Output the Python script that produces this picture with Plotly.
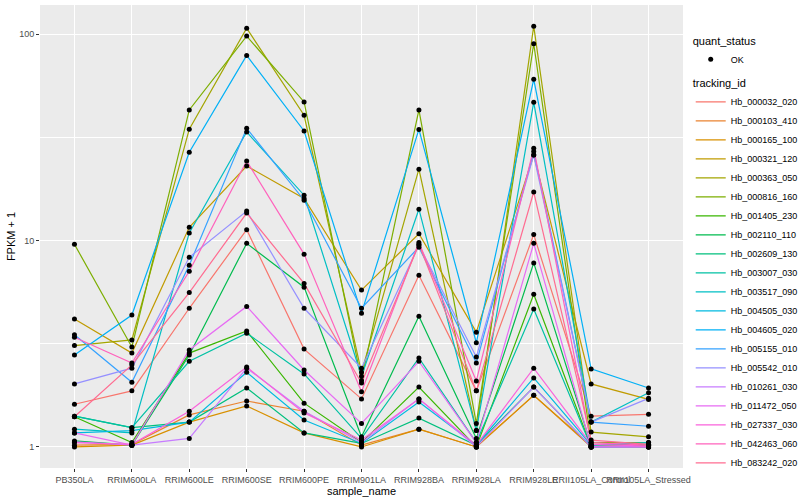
import plotly.graph_objects as go

samples = ["PB350LA", "RRIM600LA", "RRIM600LE", "RRIM600SE", "RRIM600PE", "RRIM901LA",
           "RRIM928BA", "RRIM928LA", "RRIM928LE", "RRII105LA_Control", "RRII105LA_Stressed"]

tracking_ids = ["Hb_000032_020", "Hb_000103_410", "Hb_000165_100", "Hb_000321_120",
                "Hb_000363_050", "Hb_000816_160", "Hb_001405_230", "Hb_002110_110",
                "Hb_002609_130", "Hb_003007_030", "Hb_003517_090", "Hb_004505_030",
                "Hb_004605_020", "Hb_005155_010", "Hb_005542_010", "Hb_010261_030",
                "Hb_011472_050", "Hb_027337_030", "Hb_042463_060", "Hb_083242_020"]

colors = ["#F8766D", "#EA8331", "#D89000", "#C09B00", "#A3A500", "#7CAE00", "#39B600",
          "#00BB4E", "#00BF7D", "#00C1A3", "#00BFC4", "#00BAE0", "#00B0F6", "#35A2FF",
          "#9590FF", "#C77CFF", "#E76BF3", "#FA62DB", "#FF62BC", "#FF6C91"]

# FPKM + 1 per tracking_id, in sample order
Hb_000032_020 = [1.61, 1.87, 4.7, 11.3, 2.98, 1.71, 6.8, 1.87, 10.7, 1.41, 1.44]
Hb_000103_410 = [1.02, 1.03, 1.43, 1.67, 1.49, 1.02, 1.22, 1.0, 1.78, 1.0, 1.02]
Hb_000165_100 = [1.0, 1.02, 1.32, 1.58, 1.17, 1.0, 1.22, 1.0, 1.78, 1.01, 1.0]
Hb_000321_120 = [4.17, 2.85, 11.6, 23.0, 16.0, 5.76, 10.8, 3.6, 26.0, 2.02, 1.7]
Hb_000363_050 = [3.1, 3.3, 34.7, 107.0, 40.5, 2.3, 22.2, 1.2, 109.5, 1.18, 1.12]
Hb_000816_160 = [9.6, 3.05, 43.0, 98.0, 47.0, 2.1, 43.0, 1.3, 90.0, 1.05, 1.05]
Hb_001405_230 = [1.4, 1.05, 2.85, 3.65, 1.63, 1.05, 1.95, 1.0, 5.5, 1.0, 1.0]
Hb_002110_110 = [1.07, 1.02, 2.79, 9.7, 5.95, 1.12, 4.3, 1.1, 7.8, 1.02, 1.03]
Hb_002609_130 = [1.41, 1.24, 1.32, 1.93, 1.17, 1.04, 1.38, 1.02, 1.95, 1.0, 1.01]
Hb_003007_030 = [1.41, 1.24, 2.6, 3.56, 2.26, 1.1, 2.7, 1.05, 4.66, 1.0, 1.0]
Hb_003517_090 = [1.22, 1.17, 10.9, 33.6, 16.6, 2.2, 14.2, 1.2, 46.8, 1.32, 1.83]
Hb_004505_030 = [1.17, 1.2, 1.32, 2.3, 1.35, 1.04, 1.65, 1.02, 2.16, 1.02, 1.05]
Hb_004605_020 = [2.79, 4.36, 26.8, 79.0, 34.0, 4.45, 34.6, 3.2, 60.5, 2.39, 1.93]
Hb_005155_010 = [3.5, 2.06, 7.6, 35.0, 15.7, 4.7, 9.3, 2.55, 27.0, 1.32, 1.26]
Hb_005542_010 = [2.02, 2.41, 8.3, 13.9, 4.7, 2.41, 9.5, 2.73, 26.0, 1.32, 1.72]
Hb_010261_030 = [1.06, 1.02, 1.1, 2.41, 1.49, 1.05, 1.71, 1.0, 1.95, 1.0, 1.0]
Hb_011472_050 = [1.17, 1.02, 2.95, 4.8, 2.36, 1.3, 2.6, 1.05, 9.7, 1.0, 1.0]
Hb_027337_030 = [1.05, 1.03, 1.49, 2.44, 1.46, 1.08, 1.71, 1.02, 2.41, 1.03, 1.01]
Hb_042463_060 = [3.4, 2.55, 7.1, 24.3, 8.6, 1.85, 9.8, 2.09, 28.0, 1.05, 1.02]
Hb_083242_020 = [1.4, 2.5, 5.6, 13.6, 6.2, 2.04, 9.6, 1.87, 17.2, 1.08, 1.03]

series = [Hb_000032_020, Hb_000103_410, Hb_000165_100, Hb_000321_120, Hb_000363_050,
          Hb_000816_160, Hb_001405_230, Hb_002110_110, Hb_002609_130, Hb_003007_030,
          Hb_003517_090, Hb_004505_030, Hb_004605_020, Hb_005155_010, Hb_005542_010,
          Hb_010261_030, Hb_011472_050, Hb_027337_030, Hb_042463_060, Hb_083242_020]

FONT = "Liberation Sans, Arial, sans-serif"

fig = go.Figure()
for name, col, vals in zip(tracking_ids, colors, series):
    fig.add_trace(go.Scatter(x=samples, y=vals, mode="lines", name=name,
                             line=dict(color=col, width=1.2), legend="legend2",
                             showlegend=True))

all_x, all_y = [], []
for vals in series:
    all_x += samples
    all_y += vals
fig.add_trace(go.Scatter(x=all_x, y=all_y, mode="markers", name="OK",
                         marker=dict(color="black", size=5, symbol="circle"),
                         legend="legend", showlegend=True))

fig.update_layout(
    width=800, height=500, showlegend=True,
    margin=dict(l=40, r=117, t=5, b=32, autoexpand=False),
    paper_bgcolor="white", plot_bgcolor="#EBEBEB",
    font=dict(family=FONT, size=9, color="black"),
    legend=dict(title=dict(text="quant_status", font=dict(size=11)),
                x=1.012, xanchor="left", y=0.945, yanchor="top",
                font=dict(size=9), bgcolor="rgba(0,0,0,0)", tracegroupgap=0,
                itemwidth=30, visible=True),
    legend2=dict(title=dict(text="tracking_id", font=dict(size=11)),
                 x=1.012, xanchor="left", y=0.853, yanchor="top",
                 font=dict(size=9), bgcolor="rgba(0,0,0,0)", tracegroupgap=0,
                 itemwidth=30, visible=True),
)

fig.update_xaxes(
    type="category", categoryorder="array", categoryarray=samples,
    range=[-0.6, len(samples) - 0.4], automargin=False,
    showgrid=True, gridcolor="white", gridwidth=1.1, zeroline=False,
    ticks="outside", ticklen=3, tickcolor="#333333", tickangle=0,
    tickfont=dict(size=9, color="#4D4D4D"),
    title=dict(text="sample_name", font=dict(size=11, color="black"), standoff=1),
    showline=False,
)
fig.update_yaxes(
    type="log", range=[-0.102, 2.142], automargin=False,
    tickvals=[1, 10, 100], ticktext=["1", "10", "100"],
    showgrid=True, gridcolor="white", gridwidth=1.1, zeroline=False,
    ticks="outside", ticklen=3, tickcolor="#333333",
    tickfont=dict(size=9, color="#4D4D4D"),
    minor=dict(tickvals=[10 ** 0.5, 10 ** 1.5], showgrid=True, gridcolor="white",
               gridwidth=0.5, ticks=""),
    title=dict(text="FPKM + 1", font=dict(size=11, color="black"), standoff=1),
    showline=False,
)

fig.write_html("out.html", config={"displayModeBar": False},
               post_script="document.body.style.margin='0';")
